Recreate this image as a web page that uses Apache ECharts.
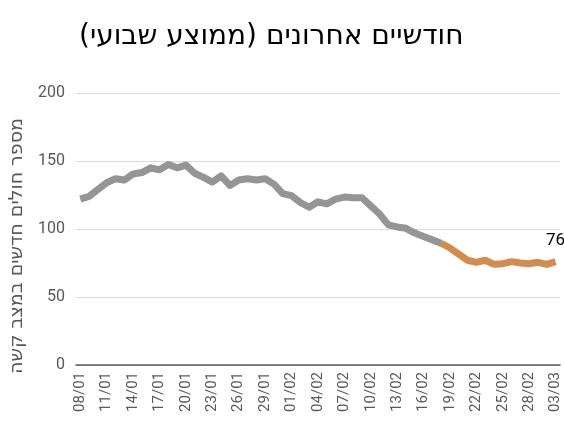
<!DOCTYPE html>
<html>
<head>
<meta charset="utf-8">
<script src="https://cdn.jsdelivr.net/npm/echarts@6/dist/echarts.min.js"></script>
<style>
  html, body { margin: 0; padding: 0; background: #fff; }
  #chart { width: 564px; height: 424px; }
</style>
</head>
<body>
<div id="chart"></div>
<script>
// dates (dd/mm)
const dates = [
  '08/01','09/01','10/01','11/01','12/01','13/01','14/01','15/01','16/01','17/01',
  '18/01','19/01','20/01','21/01','22/01','23/01','24/01','25/01','26/01','27/01',
  '28/01','29/01','30/01','31/01','01/02','02/02','03/02','04/02','05/02','06/02',
  '07/02','08/02','09/02','10/02','11/02','12/02','13/02','14/02','15/02','16/02',
  '17/02','18/02','19/02','20/02','21/02','22/02','23/02','24/02','25/02','26/02',
  '27/02','28/02','01/03','02/03','03/03'
];
// weekly average of new severe patients
const values = [
  122, 124, 129, 134, 137, 136, 140.5, 141.5, 145, 143.5,
  147.5, 145, 147, 141, 138, 134.5, 139, 132, 136, 137,
  136, 137, 133, 126, 124.5, 119.5, 116, 120, 118.5, 122,
  123.5, 123, 123, 117, 111, 103, 101.5, 100.5, 97, 94.5,
  92, 89.5, 86, 81.5, 77, 75.5, 77, 74, 74.5, 76,
  75, 74.5, 75.5, 74, 76
];
const splitIndex = 41; // orange part starts here
const yTicks = [0, 50, 100, 150, 200];

const grayData = values.map((v, i) => i <= splitIndex ? v : null);
const orangeData = values.map((v, i) => {
  if (i < splitIndex) return null;
  if (i === values.length - 1) {
    return { value: v, label: { show: true } };
  }
  return v;
});

const chart = echarts.init(document.getElementById('chart'));
const option = {
  animation: false,
  title: {
    text: 'חודשיים אחרונים (ממוצע שבועי)\u200F',
    left: 74,
    top: 18,
    textStyle: {
      fontSize: 28,
      fontWeight: 'normal',
      color: '#000',
      fontFamily: 'DejaVu Sans, sans-serif'
    }
  },
  grid: { left: 69, right: 4, top: 93, bottom: 59 },
  xAxis: {
    type: 'category',
    data: dates,
    boundaryGap: true,
    axisLine: { lineStyle: { color: '#595959', width: 1.5 } },
    axisTick: { show: false },
    axisLabel: {
      interval: 2,
      rotate: 90,
      margin: 7,
      fontSize: 15,
      color: '#595959',
      fontFamily: 'Roboto, sans-serif'
    }
  },
  yAxis: {
    type: 'value',
    min: yTicks[0],
    max: yTicks[yTicks.length - 1],
    interval: 50,
    name: 'מספר חולים חדשים במצב קשה',
    nameLocation: 'middle',
    nameGap: 46,
    nameTextStyle: {
      fontSize: 19,
      color: '#595959',
      padding: [0, 34, 0, 0],
      fontFamily: 'DejaVu Sans, sans-serif'
    },
    axisLine: { show: false },
    axisTick: { show: false },
    axisLabel: {
      fontSize: 16,
      color: '#595959',
      margin: 11,
      fontFamily: 'Roboto, sans-serif'
    },
    splitLine: { lineStyle: { color: '#d9d9d9', width: 1 } }
  },
  series: [
    {
      type: 'line',
      data: grayData,
      symbol: 'none',
      lineStyle: { color: '#959595', width: 7, join: 'round' },
      z: 2
    },
    {
      type: 'line',
      data: orangeData,
      symbol: 'circle',
      symbolSize: 0,
      showSymbol: true,
      itemStyle: { color: '#d18c50' },
      lineStyle: { color: '#d18c50', width: 7, join: 'round' },
      label: {
        position: 'top',
        distance: 12,
        fontSize: 17,
        color: '#000',
        fontFamily: 'Roboto, sans-serif'
      },
      z: 3
    }
  ]
};
chart.setOption(option);
window.addEventListener('resize', () => {
  chart.resize();
});
</script>
</body>
</html>
